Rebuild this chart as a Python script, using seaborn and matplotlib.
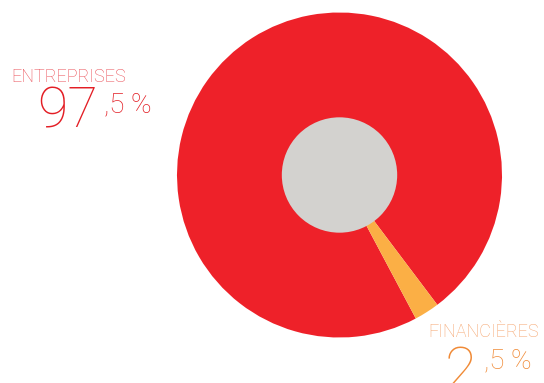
import matplotlib
matplotlib.use("Agg")
import matplotlib.pyplot as plt
import seaborn as sns

categories = ["ENTREPRISES", "FINANCIÈRES"]
values = [97.5, 2.5]
big_digits = ["97", "2"]
small_parts = [",5 %", ",5 %"]

sns.set_theme(style="white")
plt.rcParams['font.family'] = ['Roboto', 'DejaVu Sans']

W, H = 544, 383
fig = plt.figure(figsize=(W / 100, H / 100), dpi=100)
fig.patch.set_facecolor("white")

colors = ["#EE2129", "#FBAF45"]
# pie axes
cx, cy, r = 339.5, 175, 162.5
ax = fig.add_axes([(cx - r) / W, (H - cy - r) / H, 2 * r / W, 2 * r / H])
ax.pie(values, colors=colors, startangle=-53, counterclock=True,
       wedgeprops=dict(linewidth=0), radius=1)
ax.add_patch(plt.Circle((0, 0), 0.355, color="#D3D2CF", zorder=5, linewidth=0))
ax.set_xlim(-1, 1)
ax.set_ylim(-1, 1)
ax.set_aspect("equal")
ax.axis("off")

def px(x, y):
    return x / W, 1 - y / H

# ENTREPRISES label
fig.text(*px(11, 82), categories[0], fontsize=13, color="#EA4A52",
         fontweight="light", va="baseline", ha="left")
fig.text(*px(37, 127), big_digits[0], fontsize=40, color="#E31E25",
         fontweight="light", va="baseline", ha="left")
fig.text(*px(104, 112), small_parts[0], fontsize=20, color="#E31E25",
         fontweight="light", va="baseline", ha="left")

# FINANCIÈRES label
fig.text(*px(428, 337), categories[1], fontsize=13, color="#F5A26A",
         fontweight="light", va="baseline", ha="left")
fig.text(*px(445, 388), big_digits[1], fontsize=42, color="#F08A36",
         fontweight="light", va="baseline", ha="left")
fig.text(*px(484, 368), small_parts[1], fontsize=20, color="#F08A36",
         fontweight="light", va="baseline", ha="left")

fig.savefig("out.png", dpi=100, facecolor="white")
